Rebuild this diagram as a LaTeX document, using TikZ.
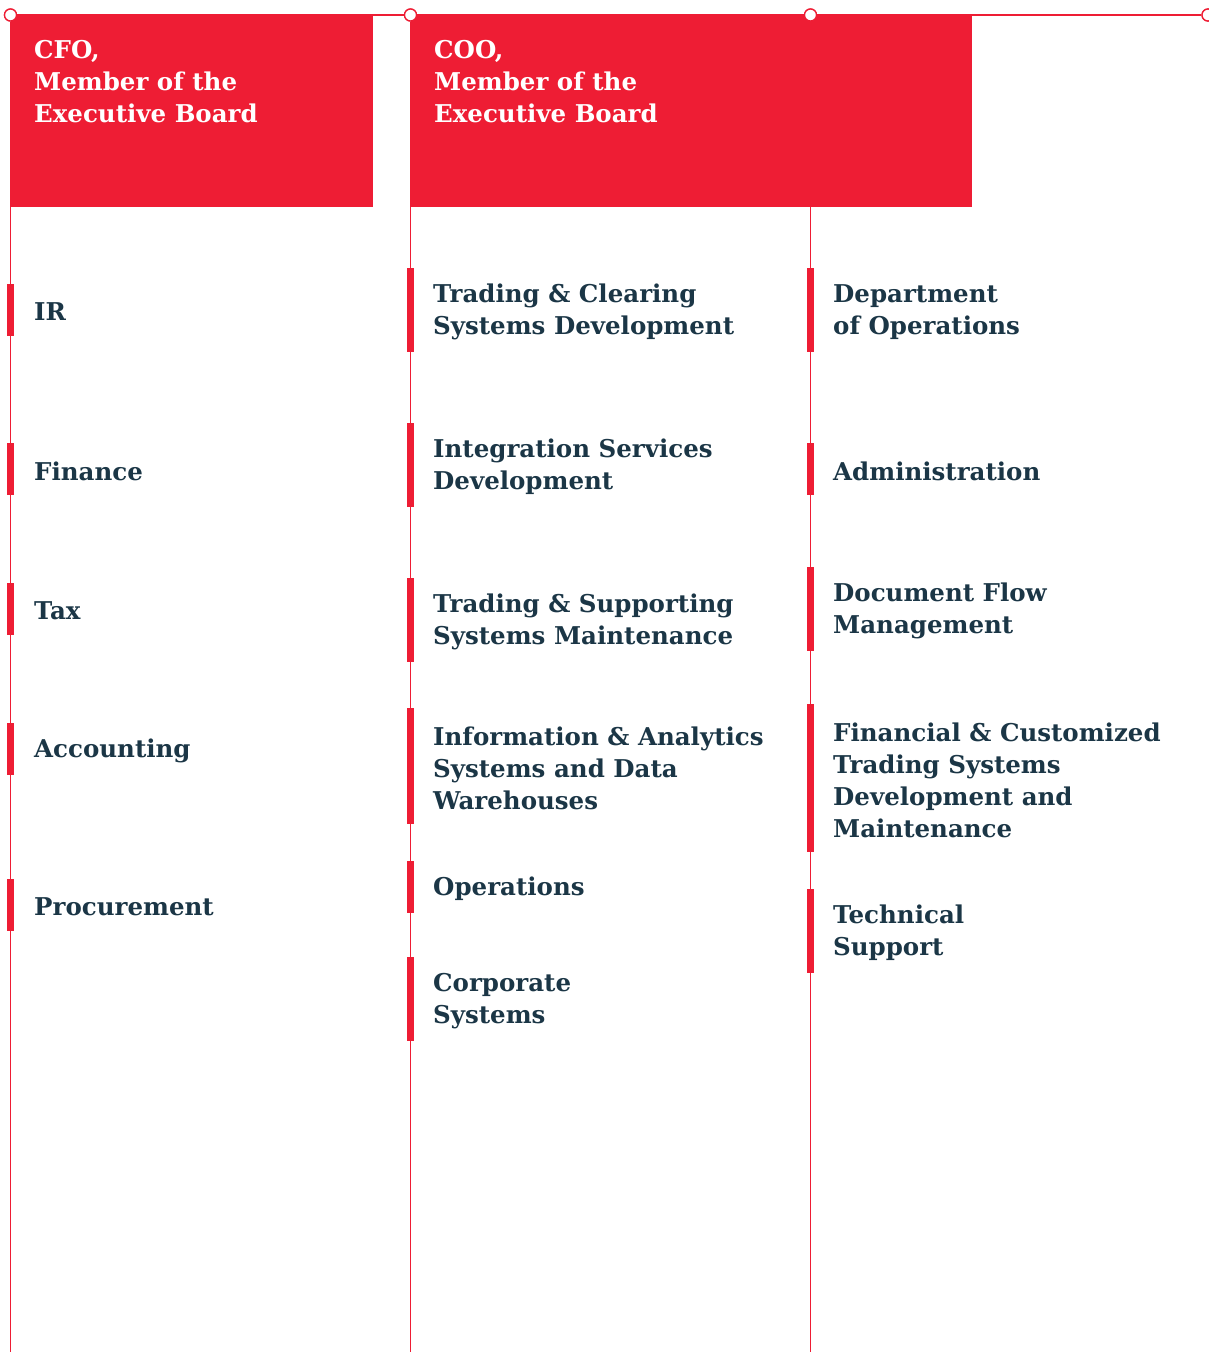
\documentclass[tikz,border=0pt]{standalone}
\usepackage{fontspec}
\setmainfont{DejaVu Serif}
\definecolor{brandred}{HTML}{EE1D34}
\definecolor{navy}{HTML}{1B3646}
\begin{document}
\begin{tikzpicture}[x=1pt,y=-1pt,
  rule/.style={draw=brandred,line width=1.3pt},
  dot/.style={circle,draw=brandred,fill=white,line width=1.3pt,minimum size=12pt,inner sep=0pt},
  headbox/.style={fill=brandred,draw=none},
  headtxt/.style={anchor=north west,inner sep=0pt,align=left,text=white,font=\bfseries\fontsize{24.5}{32}\selectfont},
  bar/.style={fill=brandred,draw=none,minimum width=7pt,inner sep=0pt},
  lbl/.style={anchor=west,inner sep=0pt,yshift=-2pt,align=left,text=navy,font=\bfseries\fontsize{24.5}{32}\selectfont}]
\useasboundingbox (0,0) rectangle (1208,1352);
% header boxes
\fill[headbox] (11,15) rectangle (373,207);
\fill[headbox] (411,15) rectangle (972,207);
% coordinates
\coordinate (b1) at (10.5,1352);
\coordinate (b2) at (410.5,1352);
\coordinate (b3) at (810.5,1352);
\node[dot] (c1) at (10.5,15) {};
\node[dot] (c2) at (410.5,15) {};
\node[dot] (c3) at (810.5,15) {};
\node[dot] (c4) at (1208,15) {};
% lines
\draw[rule] (c1) -- (c2);
\draw[rule] (c2) -- (c3);
\draw[rule] (c3) -- (c4);
\draw[rule] (c1) -- (b1);
\draw[rule] (c2) -- (b2);
\draw[rule] (c3) -- (b3);
\node[dot] at (c1) {};
\node[dot] at (c2) {};
\node[dot] at (c3) {};
\node[dot] at (c4) {};
% header text
\node[headtxt] (cfo) at (34,40) {CFO,\\Member of the\\Executive Board};
\node[headtxt] (coo) at (434,40) {COO,\\Member of the\\Executive Board};
% left column
\node[bar,minimum height=52pt] (l1) at (10.5,310) {};
\node[lbl] (l1t) at (34,310) {IR};
\node[bar,minimum height=52pt] (l2) at (10.5,469) {};
\node[lbl] (l2t) at (34,469) {Finance};
\node[bar,minimum height=52pt] (l3) at (10.5,609) {};
\node[lbl] (l3t) at (34,609) {Tax};
\node[bar,minimum height=52pt] (l4) at (10.5,749) {};
\node[lbl] (l4t) at (34,749) {Accounting};
\node[bar,minimum height=52pt] (l5) at (10.5,905) {};
\node[lbl] (l5t) at (34,905) {Procurement};
% middle column
\node[bar,minimum height=84pt] (m1) at (410.5,310) {};
\node[lbl] (m1t) at (433,310) {Trading \& Clearing\\Systems Development};
\node[bar,minimum height=84pt] (m2) at (410.5,465) {};
\node[lbl] (m2t) at (433,465) {Integration Services\\Development};
\node[bar,minimum height=84pt] (m3) at (410.5,620) {};
\node[lbl] (m3t) at (433,620) {Trading \& Supporting\\Systems Maintenance};
\node[bar,minimum height=116pt] (m4) at (410.5,766) {};
\node[lbl] (m4t) at (433,766) {Information \& Analytics\\Systems and Data\\Warehouses};
\node[bar,minimum height=52pt] (m5) at (410.5,887) {};
\node[lbl] (m5t) at (433,887) {Operations};
\node[bar,minimum height=84pt] (m6) at (410.5,999) {};
\node[lbl] (m6t) at (433,999) {Corporate\\Systems};
% right column
\node[bar,minimum height=84pt] (r1) at (810.5,310) {};
\node[lbl] (r1t) at (833,310) {Department\\of Operations};
\node[bar,minimum height=52pt] (r2) at (810.5,469) {};
\node[lbl] (r2t) at (833,469) {Administration};
\node[bar,minimum height=84pt] (r3) at (810.5,609) {};
\node[lbl] (r3t) at (833,609) {Document Flow\\Management};
\node[bar,minimum height=148pt] (r4) at (810.5,778) {};
\node[lbl] (r4t) at (833,778) {Financial \& Customized\\Trading Systems\\Development and\\Maintenance};
\node[bar,minimum height=84pt] (r5) at (810.5,931) {};
\node[lbl] (r5t) at (833,931) {Technical\\Support};
\end{tikzpicture}
\end{document}
